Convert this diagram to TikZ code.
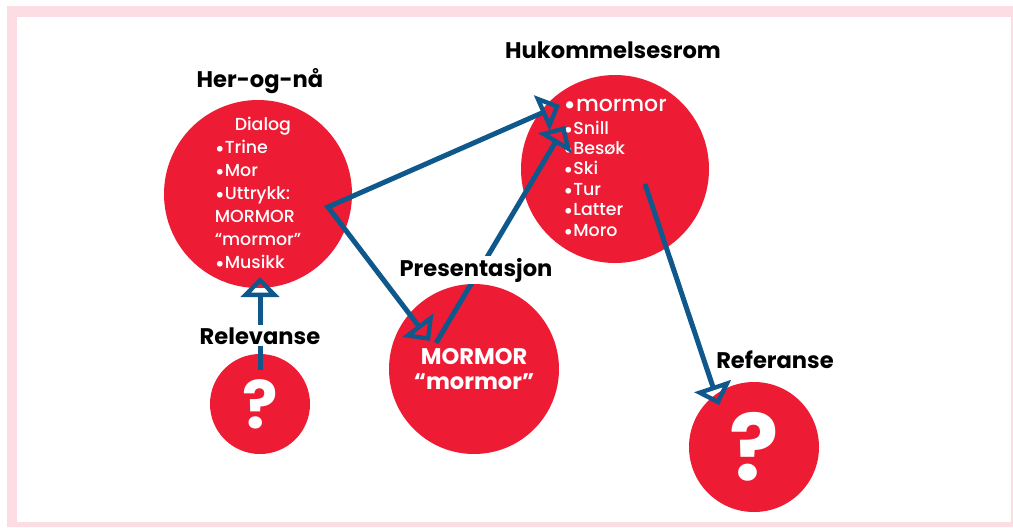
\documentclass[tikz,border=0pt]{standalone}
\usepackage{fontspec}
\IfFontExistsTF{Poppins Medium}
  {\setmainfont{Poppins}[UprightFont=* Medium, BoldFont=* Bold]}
  {\setmainfont{Poppins}}
\usetikzlibrary{positioning,arrows.meta}

\definecolor{bubbleRed}{RGB}{237,28,52}
\definecolor{linkBlue}{RGB}{15,88,140}
\definecolor{framePink}{RGB}{251,221,227}

\newcommand{\dotitem}{\raisebox{-0.3ex}{\scalebox{1.25}{•}}}

\begin{document}
\begin{tikzpicture}[x=0.5pt, y=-0.5pt, font=\fontsize{8.7}{11.5}\selectfont]
		
		\tikzstyle{bubble} = [circle, fill=bubbleRed, text=white, inner sep=0pt, align=left]
		\tikzstyle{heading} = [font=\fontsize{11.3}{14}\selectfont\bfseries, fill=white, inner sep=1pt, anchor=base]
		\tikzstyle{link} = [linkBlue, line width=2.5pt, miter limit=20, >={Triangle[open, length=10pt, width=19pt, line width=2.2pt]}]
		
		% Frame
		\useasboundingbox (0,0) rectangle (1013,527);
		\fill[framePink] (7,6) rectangle (1013,527);
		\fill[white] (17,17) rectangle (1011,522);
		
		% Circles
		\node[bubble, minimum size=94pt] (herognaa) at (258,194) {\hspace*{10pt}Dialog\\\dotitem Trine\\\dotitem Mor\\\dotitem Uttrykk:\\MORMOR\\“mormor”\\\dotitem Musikk};
		\node[bubble, minimum size=94pt, font=\fontsize{8.7}{10.2}\selectfont] (hukommelse) at (615,169) {{\fontsize{11}{11}\selectfont \dotitem mormor}\\[1.2pt]\dotitem Snill\\\dotitem Besøk\\\dotitem Ski\\\dotitem Tur\\\dotitem Latter\\\dotitem Moro};
		\node[bubble, minimum size=85pt, align=center, font=\fontsize{11.3}{12.5}\selectfont\bfseries] (presentasjon) at (474,369) {MORMOR\\“mormor”};
		\node[bubble, minimum size=50pt, font=\fontsize{33}{33}\selectfont\bfseries] (relevanse) at (260,404) {?};
		\node[bubble, minimum size=65pt, font=\fontsize{46}{46}\selectfont\bfseries] (referanse) at (754,447) {?};
		
		% Arrows
		\coordinate (relevanse-start) at (260,370);
		\coordinate (relevanse-tip) at (260,277);
		\draw[link, ->] (relevanse-start) -- (relevanse-tip);
		
		\coordinate (herognaa-turn) at (328,207);
		\coordinate (presentasjon-tip) at (430,341);
		\coordinate (mormor-tip) at (560,105);
		\draw[link, <->] (presentasjon-tip) -- (herognaa-turn) -- (mormor-tip);
		
		\coordinate (presentasjon-start) at (436,343);
		\coordinate (snill-tip) at (565,126);
		\draw[link, ->] (presentasjon-start) -- (snill-tip);
		
		\coordinate (hukommelse-start) at (645,184);
		\coordinate (referanse-tip) at (719,405);
		\draw[link, ->] (hukommelse-start) -- (referanse-tip);
		
		% Labels
		\node[heading] (herognaa-label) at (260,87) {Her-og-nå};
		\node[heading] (hukommelse-label) at (613,58) {Hukommelsesrom};
		\node[heading] (presentasjon-label) at (476,276) {Presentasjon};
		\node[heading] (relevanse-label) at (260,344) {Relevanse};
		\node[heading] (referanse-label) at (775,368) {Referanse};
		
	\end{tikzpicture}
\end{document}
